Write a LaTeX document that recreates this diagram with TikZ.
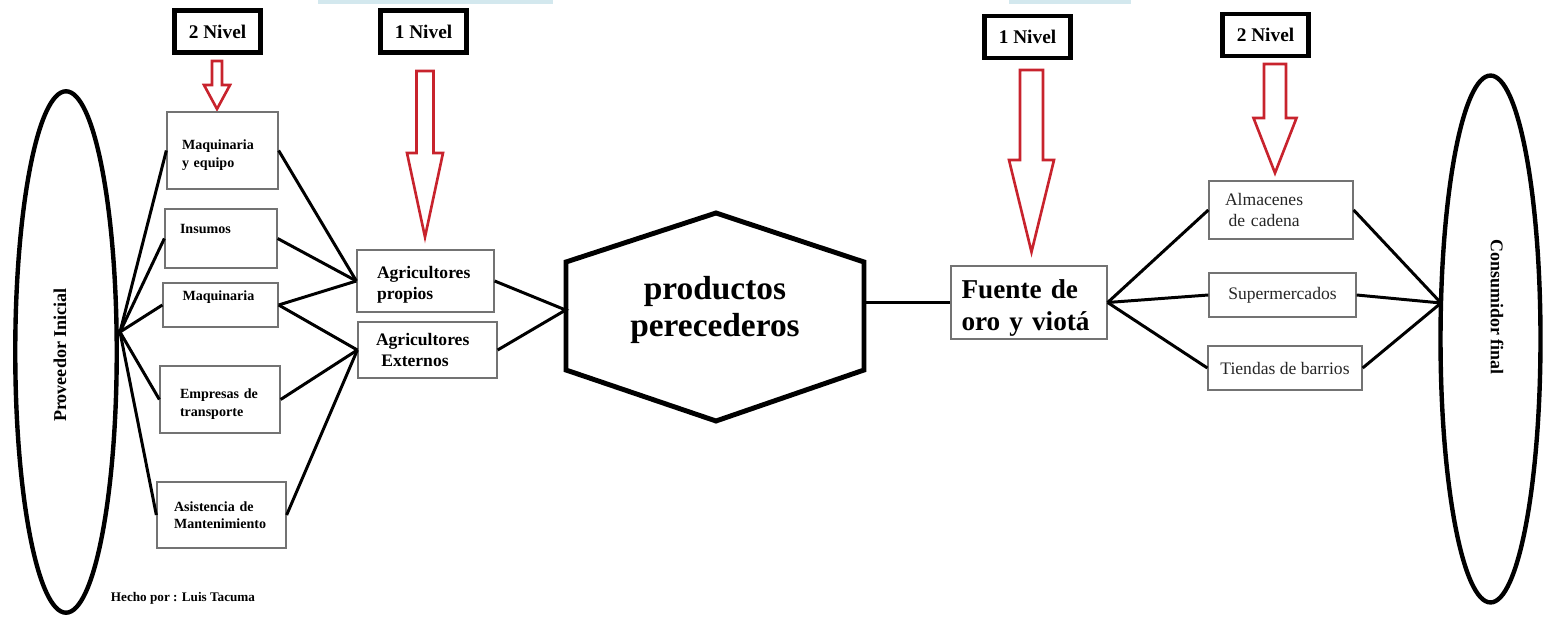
\documentclass[tikz,border=0pt]{standalone}
\usepackage{fontspec}
\setmainfont{Liberation Serif}
\usepackage{tikz}
\usetikzlibrary{calc,shapes.geometric}
\definecolor{rojo}{RGB}{200,35,45}
\definecolor{celeste}{RGB}{211,232,238}

% flecha hueca: x, arriba, punta, medio ancho cuerpo, medio ancho cabeza, inicio cabeza
\newcommand{\flecharoja}[6]{%
  \draw[flechanivel] (#1-#4,#2) -- (#1+#4,#2) -- (#1+#4,#6) -- (#1+#5,#6)
    -- (#1,#3) -- (#1-#5,#6) -- (#1-#4,#6) -- cycle;}

\begin{document}
\begin{tikzpicture}[x=0.02cm,y=-0.02cm,
  caja/.style={draw=black!55, line width=0.75pt, align=left, inner sep=0pt},
  nivel/.style={draw, line width=2.8pt, minimum width=1.72cm, minimum height=0.84cm,
    inner sep=0pt, font=\fontsize{11}{13}\selectfont\bfseries},
  elipse/.style={draw, ellipse, line width=2.5pt, inner sep=0pt},
  conector/.style={line width=1.7pt},
  flechanivel/.style={draw=rojo, line width=1.5pt, fill=white},
  hexa/.style={line width=2.8pt, line join=miter},
  chico/.style={font=\fontsize{8}{10}\selectfont\bfseries},
  medio/.style={font=\fontsize{10}{12}\selectfont\bfseries},
  tienda/.style={font=\fontsize{10}{12}\selectfont, text=black!85}]
\useasboundingbox (0,0) rectangle (1545,618);

\fill[celeste] (318,0) rectangle (553,4);
\fill[celeste] (1009,0) rectangle (1131,4);

% extremos
\node[elipse, minimum width=2.03cm, minimum height=10.43cm] (prov) at (66,352) {};
\node[rotate=90, font=\fontsize{10.3}{12}\selectfont\bfseries] (provt) at (60,355) {Proveedor Inicial};
\node[elipse, minimum width=2.0cm, minimum height=10.54cm] (cons) at (1490.5,339) {};
\node[rotate=-90, font=\fontsize{10.2}{12}\selectfont\bfseries] (const) at (1497,307) {Consumidor final};
\coordinate (pfan) at (120,332);
\coordinate (cfan) at (1441,303);

% niveles
\node[nivel] (n2a) at (217.5,31.5) {2 Nivel};
\node[nivel] (n1a) at (423.5,31.5) {1 Nivel};
\node[nivel] (n1b) at (1027.5,37) {1 Nivel};
\node[nivel] (n2b) at (1265.5,35) {2 Nivel};
\flecharoja{217}{61}{109}{5}{13}{85}
\flecharoja{425}{71}{237}{8.5}{18}{153}
\flecharoja{1031.5}{70}{252}{11.5}{22.5}{160}
\flecharoja{1275}{64}{173}{11}{21.5}{118}

% 2 nivel proveedores
\node[caja, chico, minimum width=2.22cm, minimum height=1.54cm, text width=1.62cm, text height=0.38cm] (maqeq) at (222.5,150.5) {Maquinaria\\y equipo};
\node[caja, chico, minimum width=2.24cm, minimum height=1.18cm, text width=1.64cm, text depth=0.38cm] (insumos) at (221,238.5) {Insumos};
\node[caja, chico, minimum width=2.30cm, minimum height=0.88cm, text width=1.52cm, text depth=0.38cm] (maq) at (220.5,305) {Maquinaria};
\node[caja, chico, minimum width=2.40cm, minimum height=1.34cm, text width=1.60cm, text height=0.38cm] (empresas) at (220,399.5) {Empresas de\\transporte};
\node[caja, chico, minimum width=2.58cm, minimum height=1.32cm, text width=1.90cm] (asist) at (221.5,515) {Asistencia de\\Mantenimiento};

% 1 nivel
\node[caja, medio, minimum width=2.74cm, minimum height=1.24cm, text width=1.94cm, text height=0.4cm] (agrip) at (425.5,281) {Agricultores\\propios};
\node[caja, medio, minimum width=2.78cm, minimum height=1.12cm, text width=2.06cm] (agrie) at (427.5,350) {Agricultores\\\hspace*{3pt}Externos};

% centro
\node[font=\fontsize{19}{21.5}\selectfont\bfseries, align=center, minimum width=5.96cm, inner sep=0pt] (prod) at (715,310) {productos\\perecederos};
\draw[hexa] (716,213) -- (864,262) -- (864,370) -- (716,421) -- (566,370) -- (566,262) -- cycle;
\node[caja, font=\fontsize{15.5}{18}\selectfont\bfseries, minimum width=3.12cm, minimum height=1.46cm, text width=2.7cm, text height=0.6cm] (fuente) at (1029,302.5) {Fuente de\\oro y viotá};

% distribuidores
\node[caja, tienda, minimum width=2.88cm, minimum height=1.16cm, text width=2.24cm] (almac) at (1281,210) {Almacenes\\\hspace*{2pt}de cadena};
\node[caja, tienda, minimum width=2.94cm, minimum height=0.88cm] (super) at (1282.5,295) {Supermercados};
\node[caja, tienda, minimum width=3.08cm, minimum height=0.88cm] (tiendas) at (1285,368) {Tiendas de barrios};

\node[font=\fontsize{7.5}{9}\selectfont\bfseries] (autor) at (183,598) {Hecho por : Luis Tacuma};

% conexiones
\foreach \c in {maqeq,insumos,maq,empresas,asist}
  \draw[conector] (pfan) -- (\c.west);
\foreach \c in {maqeq,insumos,maq}
  \draw[conector] (\c.east) -- (agrip.west);
\foreach \c in {maq,empresas,asist}
  \draw[conector] (\c.east) -- (agrie.west);
\draw[conector] (agrip.east) -- (prod.west) -- (agrie.east);
\draw[conector] (prod.east |- fuente.west) -- (fuente.west);
\foreach \c in {almac,super,tiendas}{
  \draw[conector] (fuente.east) -- (\c.west);
  \draw[conector] (\c.east) -- (cfan);
}
\end{tikzpicture}
\end{document}
